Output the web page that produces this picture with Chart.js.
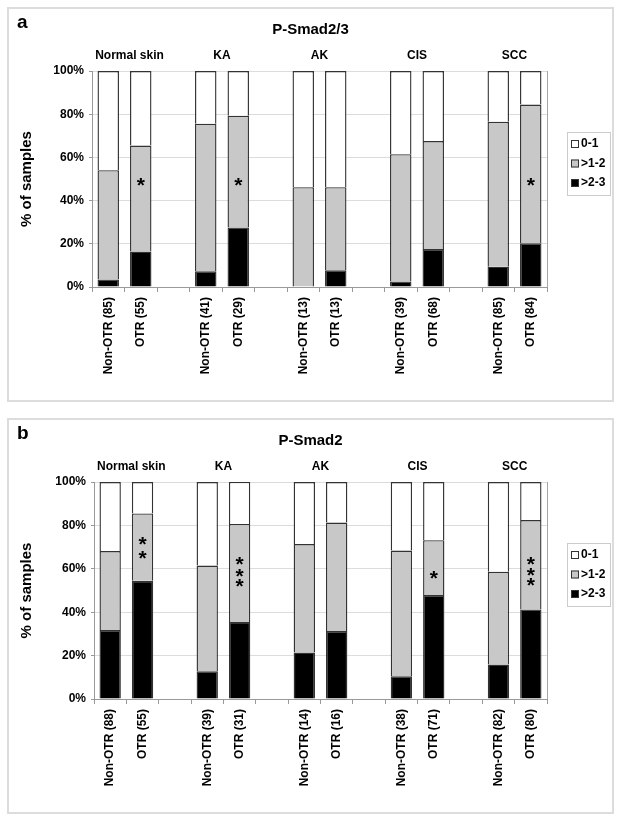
<!DOCTYPE html>
<html>
<head>
<meta charset="utf-8">
<script src="https://cdn.jsdelivr.net/npm/chart.js@4/dist/chart.umd.min.js"></script>
<style>
  body { margin: 0; background: #fff; }
  .panel { position: absolute; left: 7px; width: 607px; box-sizing: border-box; border: 2px solid #dcdcdc; }
  canvas { position: absolute; left: 7px; }
</style>
</head>
<body>
<div class="panel" style="top:7px;height:395px"></div>
<div class="panel" style="top:418px;height:396px"></div>
<canvas id="chartA" width="607" height="395" style="top:7px"></canvas>
<canvas id="chartB" width="607" height="396" style="top:418px"></canvas>
<script>
// Categories (blank entries are the gaps between lesion groups)
const groups = ['Normal skin', 'KA', 'AK', 'CIS', 'SCC'];
const catsA = ['Non-OTR (85)', 'OTR (55)', '', 'Non-OTR (41)', 'OTR (29)', '', 'Non-OTR (13)', 'OTR (13)', '',
    'Non-OTR (39)', 'OTR (68)', '', 'Non-OTR (85)', 'OTR (84)'];
const catsB = ['Non-OTR (88)', 'OTR (55)', '', 'Non-OTR (39)', 'OTR (31)', '', 'Non-OTR (14)', 'OTR (16)', '',
    'Non-OTR (38)', 'OTR (71)', '', 'Non-OTR (82)', 'OTR (80)'];
const seriesNames = ['>2-3', '>1-2', '0-1'];
const yTicks = [0, 20, 40, 60, 80, 100];

// P-Smad2/3 (% of samples)
const highA = [3.5, 16.4, null, 7.3, 27.6, null, 0, 7.7, null, 2.6, 17.6, null, 9.4, 20.2];
const midA = [50.6, 49.1, null, 68.3, 51.7, null, 46.2, 38.5, null, 58.9, 50.0, null, 67.1, 64.3];
const lowA = [45.9, 34.5, null, 24.4, 20.7, null, 53.8, 53.8, null, 38.5, 32.4, null, 23.5, 15.5];

// P-Smad2 (% of samples)
const highB = [31.8, 54.5, null, 12.8, 35.5, null, 21.4, 31.3, null, 10.5, 47.9, null, 15.9, 41.3];
const midB = [36.4, 31.0, null, 48.7, 45.2, null, 50.0, 50.0, null, 57.9, 25.3, null, 42.7, 41.2];
const lowB = [31.8, 14.5, null, 38.5, 19.4, null, 28.6, 18.7, null, 31.6, 26.8, null, 41.4, 17.5];

// significance asterisks: y value (%) of each star, per category
const starsA = [null, [48.5], null, null, [48.5], null, null, null, null, null, null, null, null, [48.5]];
const starsB = [null, [72.5, 66], null, null, [63.5, 58, 53], null, null, null, null, null, [57], null, null, [63.5, 58.5, 53.5]];

const FONT = '"Liberation Sans", Arial, sans-serif';
const fills = ['#000000', '#c8c8c8', '#ffffff'];

// Draws panel letter, title, group headings, asterisks, plot frame and legend
const panelDecor = {
    id: 'panelDecor',
    afterDraw(chart, args, opts) {
        const ctx = chart.ctx;
        const area = chart.chartArea;
        const x = chart.scales.x;
        const y = chart.scales.y;
        ctx.save();

        // right edge of the plot area
        ctx.strokeStyle = '#a6a6a6';
        ctx.lineWidth = 1;
        ctx.beginPath();
        ctx.moveTo(Math.round(area.right) + 0.5, area.top);
        ctx.lineTo(Math.round(area.right) + 0.5, area.bottom);
        ctx.stroke();

        ctx.fillStyle = '#000';
        ctx.textBaseline = 'middle';

        ctx.font = 'bold 19px ' + FONT;
        ctx.textAlign = 'left';
        ctx.fillText(opts.letter, 10, 16);

        ctx.font = 'bold 15px ' + FONT;
        ctx.textAlign = 'center';
        ctx.fillText(opts.title, chart.width / 2, 23);

        ctx.font = 'bold 12px ' + FONT;
        groups.forEach(function (g, i) {
            const cx = (x.getPixelForValue(i * 3) + x.getPixelForValue(i * 3 + 1)) / 2;
            ctx.fillText(g, cx + (i === 0 ? 5 : 0), area.top - 15);
        });

        // asterisks
        ctx.font = 'bold 21px ' + FONT;
        ctx.textBaseline = 'alphabetic';
        opts.stars.forEach(function (list, i) {
            if (!list) return;
            list.forEach(function (v) {
                ctx.fillText('*', x.getPixelForValue(i), y.getPixelForValue(v) + 9.5);
            });
        });

        // legend box
        const lx = area.right + 20;
        const ly = area.top + 61;
        ctx.strokeStyle = '#cccccc';
        ctx.strokeRect(lx + 0.5, ly + 0.5, 43, 63);
        ctx.font = 'bold 12px ' + FONT;
        ctx.textAlign = 'left';
        ctx.textBaseline = 'middle';
        const ds = chart.data.datasets.slice().reverse();
        ds.forEach(function (d, i) {
            const ry = ly + 12 + i * 19.5;
            ctx.fillStyle = d.backgroundColor;
            ctx.fillRect(lx + 4, ry - 4, 8, 8);
            ctx.strokeStyle = '#333';
            ctx.strokeRect(lx + 4.5, ry - 3.5, 7, 7);
            ctx.fillStyle = '#000';
            ctx.fillText(d.label, lx + 14, ry);
        });
        ctx.restore();
    }
};

function makePanel(id, cats, high, mid, low, stars, letter, title, leftWidth, xHeight) {
    const values = [high, mid, low];
    return new Chart(document.getElementById(id), {
        type: 'bar',
        data: {
            labels: cats,
            datasets: values.map(function (v, i) {
                return {
                    label: seriesNames[i],
                    data: v,
                    backgroundColor: fills[i],
                    borderColor: '#333333',
                    borderWidth: 1.4,
                    borderSkipped: 'start',
                    inflateAmount: 0,
                    categoryPercentage: 1,
                    barPercentage: 0.66
                };
            })
        },
        options: {
            responsive: false,
            animation: false,
            devicePixelRatio: 1,
            layout: { padding: { top: 64, right: 67, left: 0, bottom: 0 } },
            plugins: {
                legend: { display: false },
                tooltip: { enabled: false },
                panelDecor: { letter: letter, title: title, stars: stars }
            },
            scales: {
                x: {
                    stacked: true,
                    afterFit: function (s) { s.height = xHeight; },
                    grid: { offset: true, drawOnChartArea: false, tickLength: 5, color: '#999' },
                    border: { color: '#999' },
                    ticks: {
                        autoSkip: false, maxRotation: 90, minRotation: 90, padding: 5,
                        color: '#000', font: { family: FONT, size: 12, weight: 'bold' }
                    }
                },
                y: {
                    stacked: true,
                    min: 0,
                    max: 100,
                    afterFit: function (s) { s.width = leftWidth; },
                    afterBuildTicks: function (s) { s.ticks = yTicks.map(function (v) { return { value: v }; }); },
                    grid: { color: '#dcdcdc', tickColor: '#999', tickLength: 3 },
                    border: { color: '#999' },
                    ticks: {
                        padding: 5,
                        color: '#000',
                        font: { family: FONT, size: 12, weight: 'bold' },
                        callback: function (v) { return v + '%'; }
                    },
                    title: {
                        display: true,
                        text: '% of samples',
                        color: '#000',
                        padding: { top: 11 },
                        font: { family: FONT, size: 15, weight: 'bold' }
                    }
                }
            }
        },
        plugins: [panelDecor]
    });
}

makePanel('chartA', catsA, highA, midA, lowA, starsA, 'a', 'P-Smad2/3', 85, 115);
makePanel('chartB', catsB, highB, midB, lowB, starsB, 'b', 'P-Smad2', 87, 115);
</script>
</body>
</html>
